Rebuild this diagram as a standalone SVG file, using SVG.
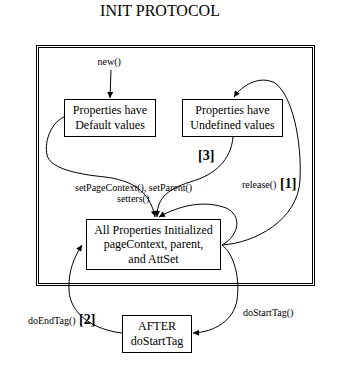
<svg xmlns="http://www.w3.org/2000/svg" width="349" height="366" viewBox="0 0 349 366">
<style>
text{font-family:"Liberation Serif","Times New Roman",serif;fill:#000}
.t{font-size:16px}
.n{font-size:12px;text-anchor:middle}
.l{font-size:10px}
.b{font-size:14px;font-weight:bold}
.box{fill:#fff;stroke:#000;stroke-width:1}
.frame{fill:none;stroke:#000;stroke-width:1}
.c{fill:none;stroke:#000;stroke-width:1;marker-end:url(#ah)}
.c0{fill:none;stroke:#000;stroke-width:1}
</style>
<defs>
<marker id="ah" viewBox="0 0 10 10" refX="10" refY="5" markerWidth="7" markerHeight="6" orient="auto" markerUnits="userSpaceOnUse"><path d="M0,0 L10,5 L0,10 z" fill="#000"/></marker>
</defs>
<rect width="349" height="366" fill="#fff"/>
<text class="t" x="160" y="16" text-anchor="middle">INIT PROTOCOL</text>
<g id="frame">
<rect class="frame" x="36.5" y="45.5" width="278" height="240"/>
<rect class="frame" x="38.5" y="47.5" width="274" height="236"/>
</g>
<g id="connectors">
<path class="c" d="M111,70 L110,98"/>
<path class="c" d="M64,117 C52,122 44,140 47,155 C50,168 75,174 105,177 C130,180 150,190 155,217"/>
<path class="c" d="M233,137 C231,160 215,175 190,182 C165,190 157,200 157,217"/>
<path class="c" d="M222,245 C240,235 242,215 226,208 C205,200 180,205 159,217"/>
<path class="c" d="M222,245 C255,243 298,220 300,180 C302,140 292,95 275,83 C260,75 242,85 234,97"/>
<path class="c" d="M222,245 C235,255 240,280 237,300 C234,320 215,332 193,333"/>
<path class="c" d="M122,333 C95,330 70,315 69,290 C68,270 75,256 82,245"/>
<text class="l" x="97.5" y="65">new()</text>
<text class="l" x="75" y="190.5">setPageContext(), setParent()</text>
<text class="l" x="117" y="202">setters()</text>
<text class="b" x="198" y="160">[3]</text>
<text class="l" x="242" y="188">release()</text>
<text class="b" x="280" y="188">[1]</text>
<text class="l" x="243" y="316">doStartTag()</text>
<text class="l" x="28" y="324">doEndTag()</text>
<text class="b" x="79" y="324">[2]</text>
</g>
<g id="default">
<rect class="box" x="64.5" y="99.5" width="91" height="37"/>
<text class="n" x="110" y="114">Properties have</text>
<text class="n" x="110" y="129">Default values</text>
</g>
<g id="undefined">
<rect class="box" x="182.5" y="99.5" width="100" height="37"/>
<text class="n" x="232.5" y="114">Properties have</text>
<text class="n" x="232.5" y="129">Undefined values</text>
</g>
<g id="initialized">
<rect class="box" x="86.5" y="219.5" width="134" height="50"/>
<text class="n" x="153.5" y="233.5">All Properties Initialized</text>
<text class="n" x="153.5" y="248">pageContext, parent,</text>
<text class="n" x="153.5" y="262.5">and AttSet</text>
</g>
<g id="after">
<rect class="box" x="122.5" y="315.5" width="69" height="37"/>
<text class="n" x="157" y="330">AFTER</text>
<text class="n" x="157" y="345">doStartTag</text>
</g>
</svg>
